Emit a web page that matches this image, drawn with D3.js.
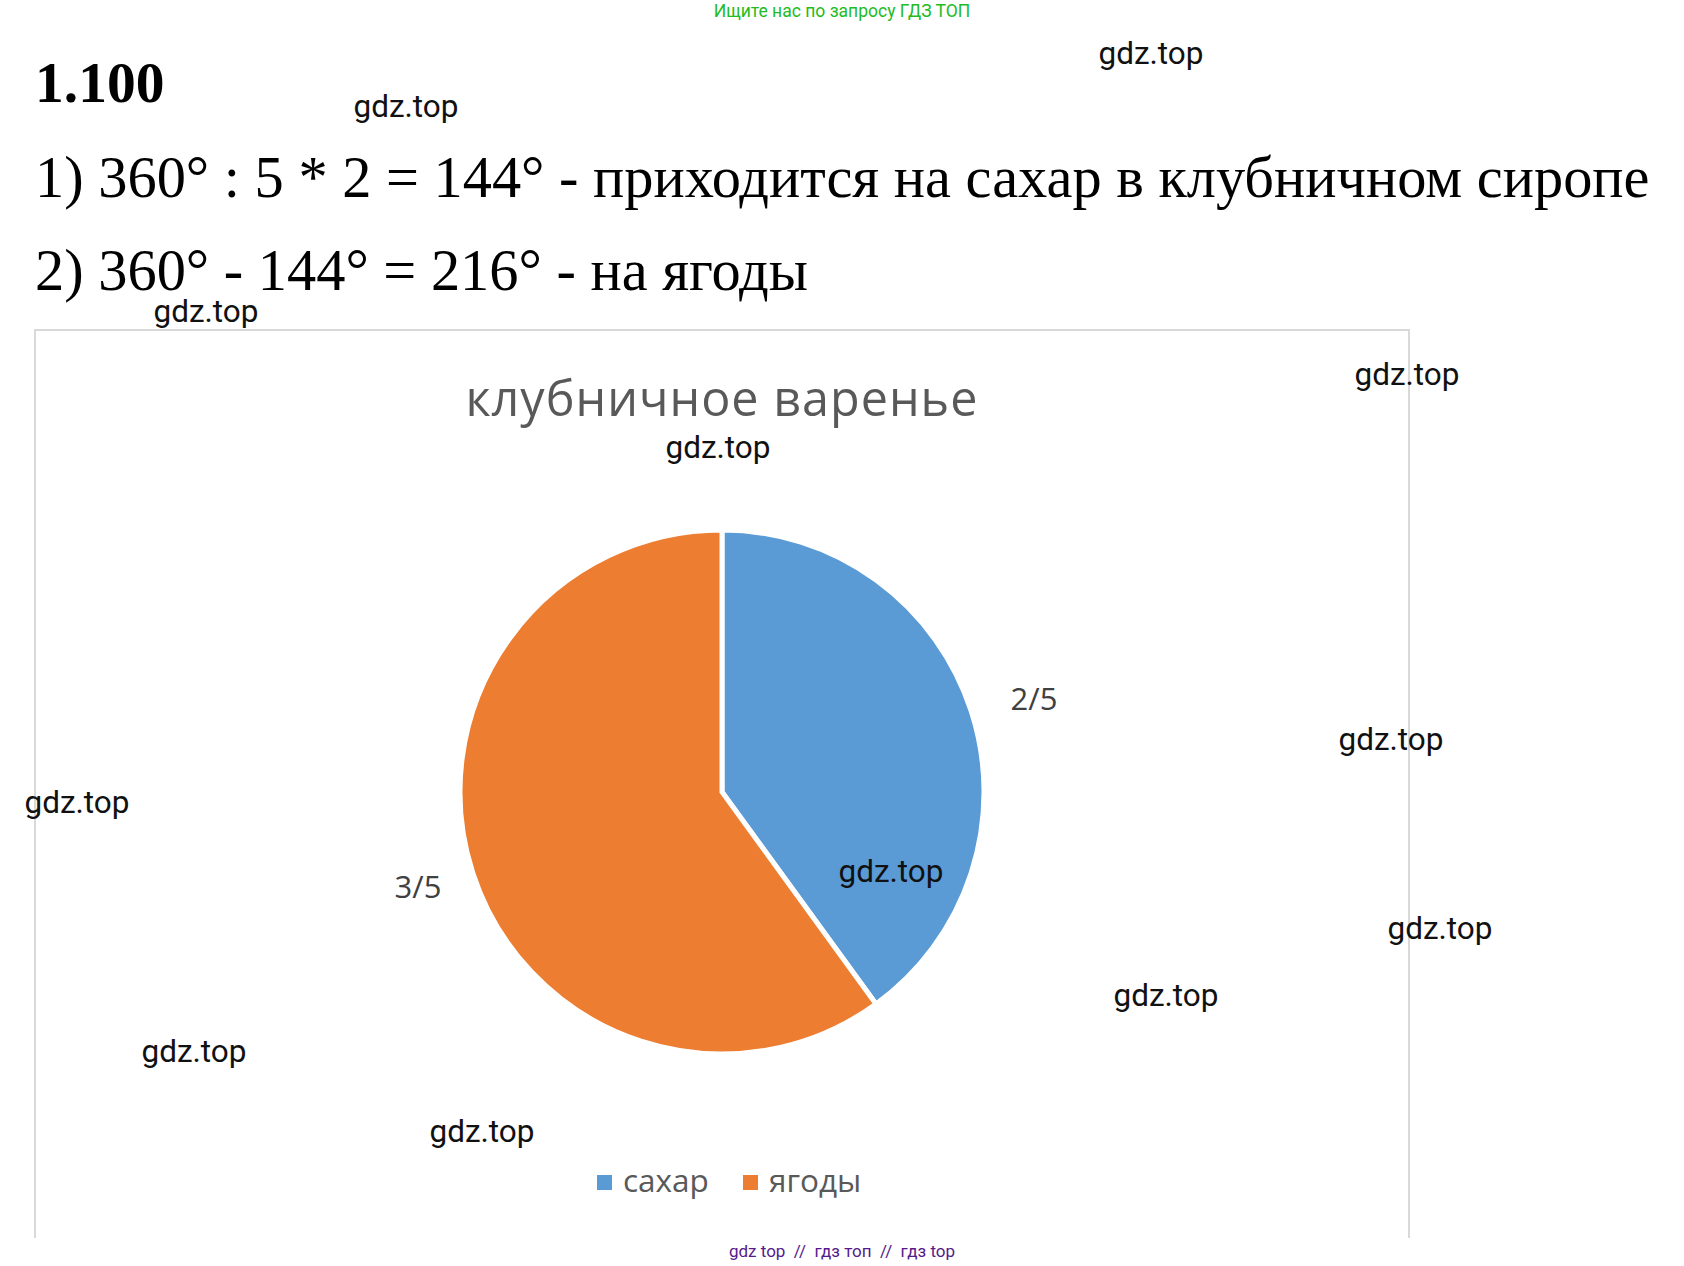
<!DOCTYPE html><html><head><meta charset="utf-8"><script src="https://cdn.jsdelivr.net/npm/d3@7"></script>
<style>body{margin:0;background:#fff}</style></head><body><script>
const categories=["сахар","ягоды"];
const values=[2,3];
const labels=["2/5","3/5"];
const colors=["#5B9BD5","#ED7D31"];
const wm=[[1151,54],[406,107],[206,312],[1407,375],[718,448],[1391,740],[77,803],[891,872],[1440,929],[1166,996],[194,1052],[482,1132]];
const svg=d3.select("body").append("svg").attr("width",1684).attr("height",1266);
svg.append("text").attr("x",842).attr("y",17).attr("text-anchor","middle").attr("font-family","Roboto").attr("font-size",17.5).attr("fill","#22bb22").text("Ищите нас по запросу ГДЗ ТОП");
const serif="Liberation Serif";
svg.append("text").attr("x",35).attr("y",102).attr("font-family",serif).attr("font-weight","bold").attr("font-size",57.5).text("1.100");
svg.append("text").attr("x",35).attr("y",197).attr("font-family",serif).attr("font-size",58.4).text("1) 360° : 5 * 2 = 144° - приходится на сахар в клубничном сиропе");
svg.append("text").attr("x",35).attr("y",290).attr("font-family",serif).attr("font-size",58.4).text("2) 360° - 144° = 216° - на ягоды");
svg.append("path").attr("d","M35,1238V330H1409V1238").attr("fill","none").attr("stroke","#d9d9d9").attr("stroke-width",2);
svg.append("text").attr("x",722).attr("y",416).attr("text-anchor","middle").attr("font-family","Open Sans").attr("font-size",48.5).attr("fill","#595959").attr("letter-spacing",1).text("клубничное варенье");
const g=svg.append("g").attr("transform","translate(722,792)");
const pie=d3.pie().sort(null)(values);
const arc=d3.arc().innerRadius(0).outerRadius(262);
g.selectAll("path").data(pie).join("path").attr("d",arc).attr("fill",(d,i)=>colors[i]).attr("stroke","#fff").attr("stroke-width",5);
const lpos=[[1034,700],[418,888]];
labels.forEach((l,i)=>svg.append("text").attr("x",lpos[i][0]).attr("y",lpos[i][1]+10).attr("text-anchor","middle").attr("font-family","Open Sans").attr("font-size",31).attr("fill","#404040").text(l));
const lx=[597,743];
categories.forEach((c,i)=>{svg.append("rect").attr("x",lx[i]).attr("y",1175).attr("width",15).attr("height",15).attr("fill",colors[i]);
svg.append("text").attr("x",lx[i]+26).attr("y",1192).attr("font-family","Open Sans").attr("font-size",31.5).attr("fill","#595959").text(c);});
wm.forEach(([x,y])=>svg.append("text").attr("x",x).attr("y",y+10).attr("text-anchor","middle").attr("font-family","Roboto").attr("font-size",31.5).attr("fill","#111").text("gdz.top"));
svg.append("text").attr("x",842).attr("y",1257).attr("text-anchor","middle").attr("font-family","Roboto").attr("font-size",17).attr("fill","#551a8b").attr("xml:space","preserve").text("gdz top  //  гдз топ  //  гдз top");
</script></body></html>
